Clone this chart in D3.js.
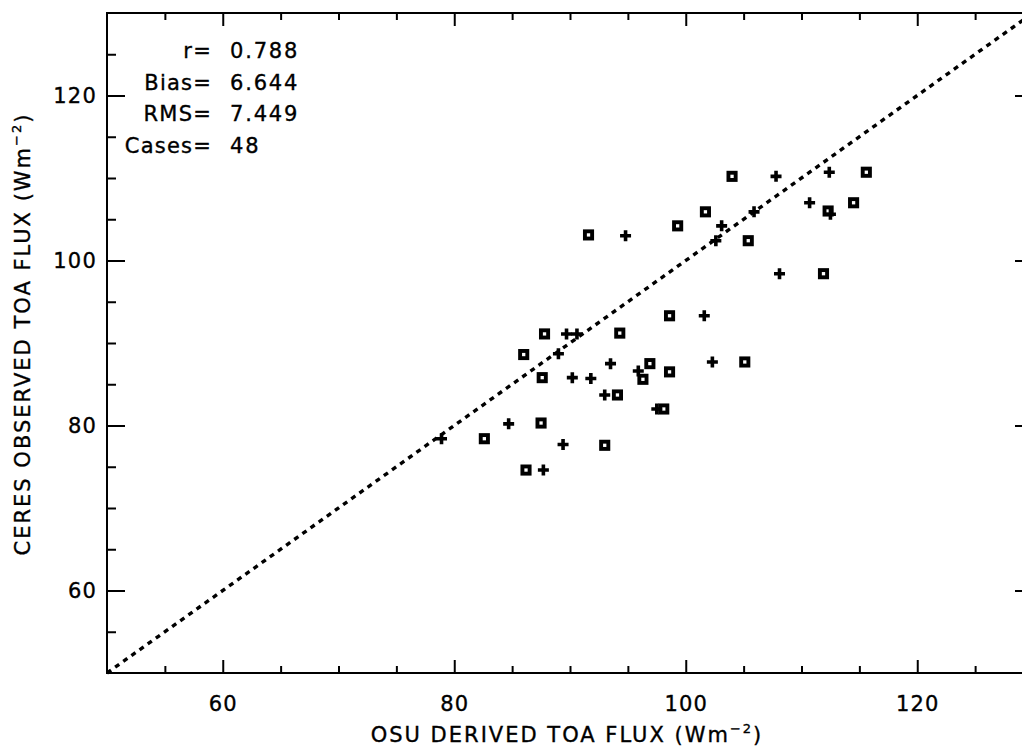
<!DOCTYPE html>
<html>
<head>
<meta charset="utf-8">
<script src="https://cdn.jsdelivr.net/npm/d3@7"></script>
<style>
  html, body { margin: 0; padding: 0; background: #fff; }
  svg { display: block; }
  text { font-family: "DejaVu Sans", sans-serif; fill: #000; stroke: #000; stroke-width: 0.35px; }
</style>
</head>
<body>
<svg id="chart" width="1022" height="749"></svg>
<script>
// ---- Data ----
const squareX = [91.6,104.0,115.6,112.3,114.5,101.7,99.3,105.4,111.9,98.6,87.8,94.3,86.0,87.6,96.9,96.3,98.6,94.1,98.1,105.1,87.5,82.6,93.0,86.2];
const squareY = [103.1,110.2,110.7,106.0,107.0,105.9,104.2,102.4,98.4,93.3,91.1,91.2,88.6,85.8,87.5,85.6,86.5,83.7,82.0,87.7,80.3,78.4,77.6,74.6];
const plusX = [94.8,107.8,112.4,110.7,112.5,105.9,103.1,102.6,108.1,101.6,89.7,90.6,89.0,90.2,91.8,93.5,95.9,93.0,97.5,102.3,84.7,78.9,89.4,87.7];
const plusY = [103.0,110.2,110.7,107.0,105.6,105.9,104.2,102.4,98.4,93.3,91.1,91.1,88.7,85.8,85.7,87.5,86.6,83.7,82.0,87.7,80.2,78.4,77.7,74.6];
const xDomain = [50, 130];
const yDomain = [50, 130];
const majorTicks = [60, 80, 100, 120];
const minorTicks = [55, 65, 70, 75, 85, 90, 95, 105, 110, 115, 125];
const statLabels = ["r=", "Bias=", "RMS=", "Cases="];
const statValues = ["0.788", "6.644", "7.449", "48"];
const xTitle = "OSU DERIVED TOA FLUX (Wm";
const yTitle = "CERES OBSERVED TOA FLUX (Wm";
const unitSup = "\u22122";

// ---- Layout ----
const svg = d3.select("#chart");
const L = 107, R = 1033, T = 13, B = 673;
const x = d3.scaleLinear().domain(xDomain).range([L, R]);
const y = d3.scaleLinear().domain(yDomain).range([B, T]);

const axisW = 2;
function styleAxis(g) {
  g.select(".domain").remove();
  g.selectAll(".tick line").attr("stroke", "#000").attr("stroke-width", axisW);
  g.selectAll(".tick text").attr("font-family", "DejaVu Sans").attr("font-size", 21)
    .attr("letter-spacing", "1.2px").attr("fill", "#000");
}
const xMajLen = 13, xMinLen = 7, yMajLen = 18, yMinLen = 9;

// bottom
svg.append("g").attr("transform", `translate(0,${B})`)
  .call(d3.axisBottom(x).tickValues(majorTicks).tickSizeInner(-xMajLen).tickSizeOuter(0).tickPadding(23).tickFormat(d3.format("d")))
  .call(styleAxis);
svg.append("g").attr("transform", `translate(0,${B})`)
  .call(d3.axisBottom(x).tickValues(minorTicks).tickSizeInner(-xMinLen).tickSizeOuter(0).tickFormat(""))
  .call(styleAxis);
// top
svg.append("g").attr("transform", `translate(0,${T})`)
  .call(d3.axisTop(x).tickValues(majorTicks).tickSizeInner(-xMajLen).tickSizeOuter(0).tickFormat(""))
  .call(styleAxis);
svg.append("g").attr("transform", `translate(0,${T})`)
  .call(d3.axisTop(x).tickValues(minorTicks).tickSizeInner(-xMinLen).tickSizeOuter(0).tickFormat(""))
  .call(styleAxis);
// left
svg.append("g").attr("transform", `translate(${L},0)`)
  .call(d3.axisLeft(y).tickValues(majorTicks).tickSizeInner(-yMajLen).tickSizeOuter(0).tickPadding(10).tickFormat(d3.format("d")))
  .call(styleAxis);
svg.append("g").attr("transform", `translate(${L},0)`)
  .call(d3.axisLeft(y).tickValues(minorTicks).tickSizeInner(-yMinLen).tickSizeOuter(0).tickFormat(""))
  .call(styleAxis);
// right
svg.append("g").attr("transform", `translate(${R},0)`)
  .call(d3.axisRight(y).tickValues(majorTicks).tickSizeInner(-yMajLen).tickSizeOuter(0).tickFormat(""))
  .call(styleAxis);
svg.append("g").attr("transform", `translate(${R},0)`)
  .call(d3.axisRight(y).tickValues(minorTicks).tickSizeInner(-yMinLen).tickSizeOuter(0).tickFormat(""))
  .call(styleAxis);

// frame
svg.append("rect").attr("x", L).attr("y", T).attr("width", R - L).attr("height", B - T)
  .attr("fill", "none").attr("stroke", "#000").attr("stroke-width", axisW);

// diagonal 1:1 line
svg.append("path")
  .datum([xDomain[0], xDomain[1]])
  .attr("d", d3.line().x(d => x(d)).y(d => y(d)))
  .attr("fill", "none").attr("stroke", "#000").attr("stroke-width", 3.4)
  .attr("stroke-dasharray", "5 5");

// squares
const sq = 7.2;
svg.append("g").selectAll("rect").data(squareX.map((v, i) => [v, squareY[i]])).join("rect")
  .attr("x", d => x(d[0]) - sq / 2).attr("y", d => y(d[1]) - sq / 2)
  .attr("width", sq).attr("height", sq)
  .attr("fill", "none").attr("stroke", "#000").attr("stroke-width", 3.9);

// plus markers
const pl = 5.5;
svg.append("g").selectAll("path").data(plusX.map((v, i) => [v, plusY[i]])).join("path")
  .attr("d", d => {
    const cx = x(d[0]), cy = y(d[1]);
    return `M${cx - pl},${cy}H${cx + pl}M${cx},${cy - pl}V${cy + pl}`;
  })
  .attr("stroke", "#000").attr("stroke-width", 3.6).attr("fill", "none");

// statistics text
const statEq = 212, statVal = 230, statY0 = 58, statDy = 31.7;
statLabels.forEach((lab, i) => {
  svg.append("text").attr("x", statEq).attr("y", statY0 + i * statDy)
    .attr("text-anchor", "end").attr("font-size", 21).attr("letter-spacing", "1.2px").text(lab);
  svg.append("text").attr("x", statVal).attr("y", statY0 + i * statDy)
    .attr("text-anchor", "start").attr("font-size", 21).attr("letter-spacing", "1.8px").text(statValues[i]);
});

// axis titles
function addTitle(t, str) {
  t.attr("font-size", 21).attr("letter-spacing", "2px").attr("text-anchor", "middle");
  t.append("tspan").text(str);
  t.append("tspan").attr("font-size", 13).attr("dy", -9).text(unitSup);
  t.append("tspan").attr("dy", 9).text(")");
}
addTitle(svg.append("text").attr("x", 567).attr("y", 742), xTitle);
addTitle(svg.append("text").attr("transform", `translate(30,334) rotate(-90)`), yTitle);
</script>
</body>
</html>
